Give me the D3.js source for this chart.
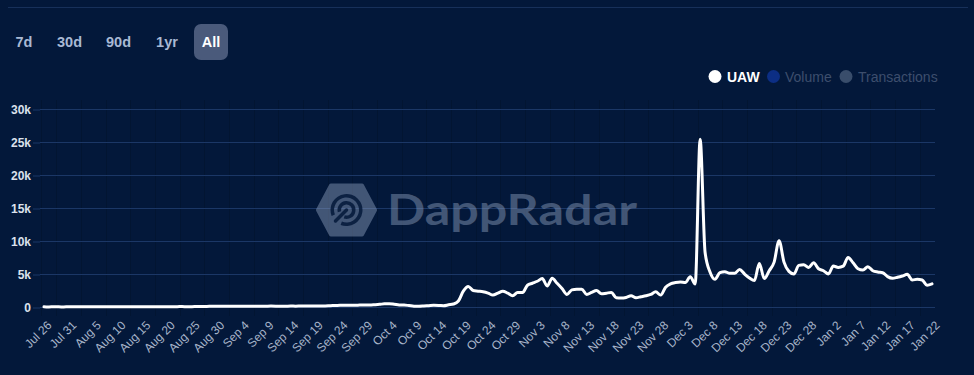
<!DOCTYPE html>
<html><head><meta charset="utf-8">
<script src="https://cdn.jsdelivr.net/npm/d3@7"></script>
<style>html,body{margin:0;padding:0;background:#03183a;overflow:hidden}svg{display:block}</style>
</head><body><svg id="chart" width="974" height="375"></svg>
<script>
// ---- data ----
const startDate = "2021-07-26";
const uawValues = [
  20,15,25,20,18,22,30,25,20,30,35,30,25,40,30,35,45,40,35,30,45,50,40,35,50,45,40,55,60,50,55,70,
  80,90,100,110,95,100,120,110,100,115,130,110,100,120,140,130,110,120,140,130,
  150,160,140,150,170,160,
  200,230,260,280,270,260,
  290,300,310,350,400,480,500,420,320,300,220,130,110,150,200,250,240,200,330,450,900,
  2400,3100,2500,2400,2300,2100,1800,2100,2400,2100,
  1700,2200,2200,3300,3600,3900,4300,3200,4350,3600,
  2800,1900,2600,2700,2700,1900,2200,2500,2000,2100,
  2200,1400,1350,1450,1700,1400,1550,1700,1900,2300,
  1800,3000,3500,3700,3800,3700,4600,3500,25400,8300,
  5300,4200,5200,5350,5100,5100,5700,5000,4400,4000,
  6600,4300,5500,6800,10050,6800,5400,5000,6300,6400,
  6000,6700,5800,5500,5000,6200,6000,6200,7500,6700,
  5800,5600,6100,5500,5300,5200,4600,4350,4500,4700,
  4950,4100,4200,4100,3300,3500
];
const tickLabels = ["Jul 26","Jul 31","Aug 5","Aug 10","Aug 15","Aug 20","Aug 25","Aug 30",
  "Sep 4","Sep 9","Sep 14","Sep 19","Sep 24","Sep 29","Oct 4","Oct 9","Oct 14","Oct 19",
  "Oct 24","Oct 29","Nov 3","Nov 8","Nov 13","Nov 18","Nov 23","Nov 28","Dec 3","Dec 8",
  "Dec 13","Dec 18","Dec 23","Dec 28","Jan 2","Jan 7","Jan 12","Jan 17","Jan 22"];
const yTicks = [0,5000,10000,15000,20000,25000,30000];
const rangeButtons = ["7d","30d","90d","1yr","All"];
const legendItems = ["UAW","Volume","Transactions"];

// ---- build ----
const parseDay = d3.timeParse("%Y-%m-%d");
const start = parseDay(startDate);
const dates = uawValues.map((v,i) => d3.timeDay.offset(start, i));
const series = dates.map((d,i) => ({date:d, value:uawValues[i]}));
const parseTick = d3.timeParse("%b %d %Y");
const tickDates = tickLabels.map(l => parseTick(l + (l.startsWith("Jan") ? " 2022" : " 2021")));

const BG = "#03183a", GRID = "#1b3766";
const svg = d3.select("#chart");
svg.append("rect").attr("width",974).attr("height",375).attr("fill",BG);

// top rule
svg.append("line").attr("x1",8).attr("x2",968).attr("y1",7.5).attr("y2",7.5)
  .attr("stroke","#17305a").attr("stroke-width",1);

const x = d3.scaleTime().domain([dates[0], dates[dates.length-1]]).range([44, 932]);
const y = d3.scaleLinear().domain([0, 30000]).range([307, 109]);

// vertical faint grid (between ticks)
const VG = "#021532";
const vg = svg.append("g");
vg.append("line").attr("x1",41.5).attr("x2",41.5).attr("y1",100).attr("y2",316)
  .attr("stroke",VG).attr("stroke-width",1);
tickDates.slice(1).forEach(d => {
  const xx = Math.round(x(d3.timeHour.offset(d, -60))) + 0.5;
  vg.append("line").attr("x1",xx).attr("x2",xx).attr("y1",100).attr("y2",316)
    .attr("stroke",VG).attr("stroke-width",1);
});

// horizontal grid
svg.append("g").selectAll("line").data(yTicks).join("line")
  .attr("x1",40).attr("x2",935)
  .attr("y1",d => Math.round(y(d))+0.5).attr("y2",d => Math.round(y(d))+0.5)
  .attr("stroke",GRID).attr("stroke-width",1);

// y axis
const yAxis = svg.append("g").attr("transform","translate(40,0.5)")
  .call(d3.axisLeft(y).tickValues(yTicks).tickSize(7).tickPadding(2)
    .tickFormat(d => d === 0 ? "0" : (d/1000) + "k"));
yAxis.select(".domain").remove();
yAxis.selectAll(".tick line").attr("stroke",GRID);
yAxis.selectAll(".tick text").attr("fill","#dbe1ec").attr("font-family","Liberation Sans, Arial, sans-serif")
  .attr("font-size",12).attr("font-weight","bold");

// x axis
const xAxis = svg.append("g").attr("transform","translate(0,316)")
  .call(d3.axisBottom(x).tickValues(tickDates).tickSize(0).tickPadding(0)
    .tickFormat((d,i) => tickLabels[i]));
xAxis.select(".domain").remove();
xAxis.selectAll(".tick text").attr("fill","#a7b4c9").attr("font-family","Liberation Sans, Arial, sans-serif")
  .attr("font-size",12).attr("text-anchor","end").attr("x",0).attr("y",0).attr("dy",0)
  .attr("transform","translate(8,10) rotate(-45)");

// watermark
const wm = svg.append("g").attr("opacity",0.46);
const hx = 346.5, hy = 210;
const hex = [[318,210],[331,185.5],[362,185.5],[375,210],[362,234.5],[331,234.5]];
wm.append("path").attr("d","M" + hex.map(p=>p.join(",")).join("L") + "Z")
  .attr("fill","#8d9fbd").attr("stroke","#8d9fbd").attr("stroke-width",4).attr("stroke-linejoin","round");
wm.append("text").attr("x",387).attr("y",225).attr("textLength",250).attr("lengthAdjust","spacingAndGlyphs")
  .attr("font-family","Lato, Open Sans, sans-serif").attr("font-weight","bold").attr("font-size",42)
  .attr("fill","#8d9fbd").text("DappRadar");
const ic = svg.append("g").attr("transform",`translate(${hx},${hy})`).attr("fill",BG).attr("opacity",0.85);
const arc = d3.arc();
ic.append("path").attr("d",arc({innerRadius:12.5,outerRadius:16,startAngle:1.38*Math.PI,endAngle:3.12*Math.PI}));
ic.append("path").attr("d",arc({innerRadius:5.5,outerRadius:9,startAngle:1.42*Math.PI,endAngle:3.1*Math.PI}));
ic.append("line").attr("x1",0).attr("y1",0).attr("x2",-11).attr("y2",11).attr("stroke",BG).attr("stroke-width",3.5)
  .attr("stroke-linecap","round");

// UAW line
const line = d3.line().x(d => x(d.date)).y(d => y(d.value)).curve(d3.curveMonotoneX);
svg.append("path").datum(series).attr("d",line).attr("fill","none")
  .attr("stroke","#ffffff").attr("stroke-width",3).attr("stroke-linejoin","round").attr("stroke-linecap","round");

// range buttons
const btnX = [24, 69.5, 118.5, 167, 211];
svg.append("rect").attr("x",194).attr("y",24).attr("width",34).attr("height",36).attr("rx",7).attr("fill","#4a5a7b");
svg.append("g").selectAll("text").data(rangeButtons).join("text")
  .attr("x",(d,i)=>btnX[i]).attr("y",47).attr("text-anchor","middle")
  .attr("font-family","Liberation Sans, Arial, sans-serif").attr("font-weight","bold").attr("font-size",14.5)
  .attr("fill",(d,i)=> i===4 ? "#ffffff" : "#a9b9d4").text(d=>d);

// legend
const lgCx = [715, 773.5, 846], lgTx = [727, 785, 858];
const lgFill = ["#ffffff","#0c2e84","#394d6b"];
const lg = svg.append("g");
lg.selectAll("circle").data(legendItems).join("circle")
  .attr("cx",(d,i)=>lgCx[i]).attr("cy",76.5).attr("r",6.5).attr("fill",(d,i)=>lgFill[i]);
lg.selectAll("text").data(legendItems).join("text")
  .attr("x",(d,i)=>lgTx[i]).attr("y",81.5)
  .attr("font-family","Liberation Sans, Arial, sans-serif").attr("font-size",14)
  .attr("font-weight",(d,i)=> i===0 ? "bold" : "normal")
  .attr("fill",(d,i)=> i===0 ? "#ffffff" : "#3d4e6d").text(d=>d);
</script>
</body></html>
